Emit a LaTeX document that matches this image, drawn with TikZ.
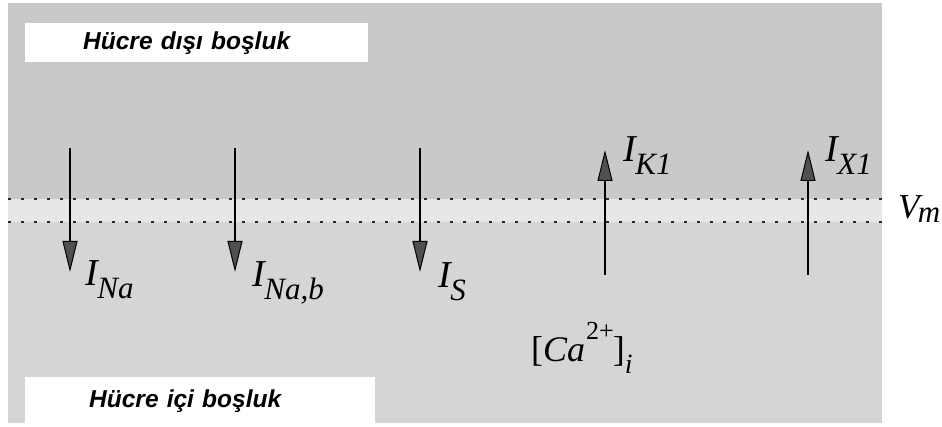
\documentclass[tikz,border=0pt]{standalone}
\usepackage{fontspec}
\setmainfont{Liberation Serif}
\setsansfont{Liberation Sans}
\usetikzlibrary{arrows.meta}

\definecolor{outgray}{RGB}{201,201,201}
\definecolor{memgray}{RGB}{231,231,231}
\definecolor{ingray}{RGB}{213,213,213}
\definecolor{headgray}{RGB}{80,80,80}
\definecolor{dotgray}{RGB}{40,40,40}

\newcommand{\bigfont}{\fontsize{38}{38}\selectfont}
\newcommand{\subfont}{\fontsize{31}{31}\selectfont}
\newcommand{\supfont}{\fontsize{26}{26}\selectfont}
\newcommand{\lblsub}[2]{\textit{#1}\kern-2pt\raisebox{-13pt}{\subfont\textit{#2}}}

\tikzset{
  current/.style={line width=2.4pt, -{Triangle[length=31pt,width=15pt,line width=1pt,fill=headgray]}},
  membrane/.style={line width=2.6pt, dotgray, dash pattern=on 2.6pt off 10.4pt},
  curlabel/.style={font=\bigfont, inner sep=0pt, anchor=base west},
  spacebox/.style={fill=white, font=\sffamily\bfseries\itshape\fontsize{24.5}{24.5}\selectfont, align=left, inner xsep=30pt, inner ysep=0pt, anchor=north west}
}

\begin{document}
\begin{tikzpicture}[x=1pt,y=-1pt]
\useasboundingbox (0,0) rectangle (942,427);
\fill [white] (0,0) rectangle (942,427);

% cell regions
\fill [outgray] (8,3) rectangle (882,199);
\fill [memgray] (8,199) rectangle (882,222);
\fill [ingray] (8,222) rectangle (882,423);

% membrane
\coordinate (M1) at (8,199);
\coordinate (M2) at (882,199);
\coordinate (M3) at (8,222);
\coordinate (M4) at (882,222);
\draw [membrane] (M1) -- (M2);
\draw [membrane] (M3) -- (M4);

% space labels
\node [spacebox, text width=283pt, minimum height=39pt] (out) at (25,23) {\hspace*{28pt}Hücre dışı boşluk};
\node [spacebox, text width=290pt, minimum height=48pt] (in) at (25,377) {\hspace*{34pt}Hücre içi boşluk};

% currents
\coordinate (Na1) at (70,148);
\coordinate (Na2) at (70,272);
\coordinate (Nb1) at (235,148);
\coordinate (Nb2) at (235,272);
\coordinate (S1) at (420,148);
\coordinate (S2) at (420,272);
\coordinate (K1) at (605,275);
\coordinate (K2) at (605,150);
\coordinate (X1) at (808,275);
\coordinate (X2) at (808,150);

\draw [current] (Na1) -- (Na2);
\draw [current] (Nb1) -- (Nb2);
\draw [current] (S1) -- (S2);
\draw [current] (K1) -- (K2);
\draw [current] (X1) -- (X2);

\node [curlabel] (INa) at (85,286) {\lblsub{I}{Na}};
\node [curlabel] (INab) at (252,287) {\lblsub{I}{Na,b}};
\node [curlabel] (IS) at (438,288) {\lblsub{I}{S}};
\node [curlabel] (IK) at (623,162) {\lblsub{I}{K1}};
\node [curlabel] (IX) at (825,162) {\lblsub{I}{X1}};
\node [curlabel] (Vm) at (898,219) {\fontsize{35}{35}\selectfont\textit{V}\kern-5pt\raisebox{-4pt}{\subfont\textit{m}}};
\node [curlabel] (Ca) at (531,362) {\fontsize{36}{36}\selectfont[\textit{Ca}\kern1pt\raisebox{22pt}{\supfont 2+}\kern-1pt]\raisebox{-12pt}{\fontsize{28}{28}\selectfont\textit{i}}};
\end{tikzpicture}
\end{document}
